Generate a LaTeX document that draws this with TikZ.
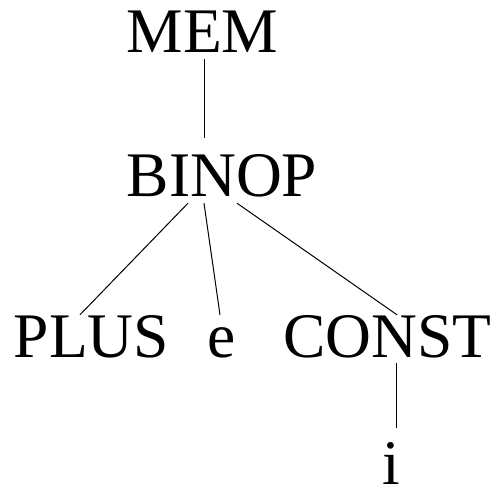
\documentclass[tikz,border=0pt]{standalone}
\usepackage{fontspec}
\setmainfont{Liberation Serif}
\tikzstyle{tree} = [inner sep=0pt, anchor=base, text height=42pt, text depth=0pt,
    font=\fontsize{63.5}{76}\selectfont]
\tikzstyle{branch} = [line width=1pt, line cap=butt]

\begin{document}
\begin{tikzpicture}[x=1pt,y=-1pt]
    \useasboundingbox (0,0) rectangle (498,489);
    \node[tree] (mem)   at (202.5,53)  {MEM};
    \node[tree] (binop) at (222,197)   {BINOP};
    \node[tree] (plus)  at (91.5,357)  {PLUS};
    \node[tree] (e)     at (221.5,357) {e};
    \node[tree] (const) at (387.5,357) {CONST};
    \node[tree] (i)     at (391,484)   {i};
    % edges
    \draw[branch] ([xshift=1.5pt,yshift=-6pt]mem.south) -- ([xshift=-18pt,yshift=17pt]binop.north);
    \draw[branch] ([xshift=-34pt,yshift=-6pt]binop.south) -- ([xshift=-11.5pt]plus.north);
    \draw[branch] ([xshift=-18pt,yshift=-6pt]binop.south) -- ([xshift=-1.5pt]e.north);
    \draw[branch] ([xshift=15pt,yshift=-6pt]binop.south) -- ([xshift=9.5pt]const.north);
    \draw[branch] ([xshift=8.5pt,yshift=-6pt]const.south) -- ([xshift=5pt,yshift=14pt]i.north);
\end{tikzpicture}
\end{document}
